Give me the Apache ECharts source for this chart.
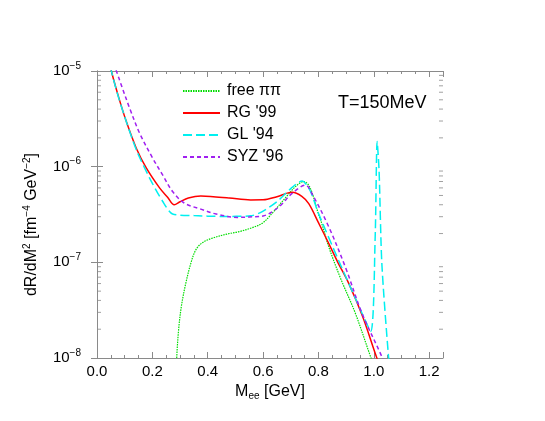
<!DOCTYPE html>
<html>
<head>
<meta charset="utf-8">
<script src="https://cdn.jsdelivr.net/npm/echarts@6/dist/echarts.min.js"></script>
<style>
  html, body { margin: 0; padding: 0; background: #fff; }
  #chart { width: 545px; height: 421px; }
</style>
</head>
<body>
<div id="chart"></div>
<script>
// M_ee [GeV] and dR/dM^2, one pair of arrays per curve
const massFree = [0.282, 0.288, 0.295, 0.305, 0.321, 0.34, 0.357, 0.38, 0.417, 0.478, 0.513, 0.56, 0.597, 0.633, 0.68, 0.72, 0.747, 0.77, 0.8, 0.813, 0.837, 0.88, 0.933, 0.99, 1.0];
const rateFree = [3e-9, 1e-8, 2e-8, 3.5e-8, 6.07e-8, 1.0e-7, 1.35e-7, 1.6e-7, 1.79e-7, 2.0e-7, 2.09e-7, 2.3e-7, 2.56e-7, 3.26e-7, 4.7e-7, 6.3e-7, 7.0e-7, 6.0e-7, 3.2e-7, 2.5e-7, 1.46e-7, 6.8e-8, 2.95e-8, 1.0e-8, 8.5e-9];

const massRG = [0.04, 0.052, 0.076, 0.106, 0.142, 0.178, 0.226, 0.255, 0.279, 0.3, 0.33, 0.375, 0.42, 0.478, 0.555, 0.6, 0.65, 0.705, 0.74, 0.765, 0.8, 0.837, 0.87, 0.909, 0.96, 1.011, 1.03];
const rateRG = [1.5e-5, 1.0e-5, 5.6e-6, 2.96e-6, 1.56e-6, 9.7e-7, 6.0e-7, 4.8e-7, 4.0e-7, 4.3e-7, 4.7e-7, 4.93e-7, 4.85e-7, 4.7e-7, 4.49e-7, 4.5e-7, 4.85e-7, 5.4e-7, 4.9e-7, 4.1e-7, 2.6e-7, 1.58e-7, 1.0e-7, 6.07e-8, 2.7e-8, 1.0e-8, 7.5e-9];

const massGL = [0.04, 0.052, 0.076, 0.106, 0.142, 0.19, 0.237, 0.273, 0.35, 0.45, 0.555, 0.597, 0.65, 0.7, 0.741, 0.77, 0.8, 0.872, 0.944, 0.989, 1.005, 1.012, 1.019, 1.029, 1.053, 1.06];
const rateGL = [1.5e-5, 1.0e-5, 5.5e-6, 2.95e-6, 1.5e-6, 7.6e-7, 4.35e-7, 3.2e-7, 3.08e-7, 3.02e-7, 3.06e-7, 3.39e-7, 4.3e-7, 5.9e-7, 7.1e-7, 5.6e-7, 3.26e-7, 1.06e-7, 3.6e-8, 1.9e-8, 1.85e-7, 1.83e-6, 9.2e-7, 9.8e-8, 1.05e-8, 8e-9];

const massSYZ = [0.06, 0.07, 0.088, 0.118, 0.154, 0.201, 0.237, 0.273, 0.315, 0.375, 0.43, 0.507, 0.55, 0.6, 0.657, 0.705, 0.753, 0.78, 0.837, 0.9, 0.957, 1.031, 1.04];
const rateSYZ = [1.2e-5, 1.0e-5, 7.1e-6, 4.08e-6, 2.24e-6, 1.23e-6, 8.2e-7, 5.5e-7, 4.17e-7, 3.6e-7, 3.2e-7, 2.95e-7, 2.98e-7, 3.05e-7, 3.8e-7, 5.26e-7, 6.4e-7, 5.0e-7, 2.36e-7, 8.5e-8, 2.95e-8, 1.0e-8, 8e-9];

// minor tick positions on the log axis
const yMinorTicks = [2e-8, 3e-8, 4e-8, 5e-8, 6e-8, 7e-8, 8e-8, 9e-8,
                     2e-7, 3e-7, 4e-7, 5e-7, 6e-7, 7e-7, 8e-7, 9e-7,
                     2e-6, 3e-6, 4e-6, 5e-6, 6e-6, 7e-6, 8e-6, 9e-6];

const xMin = 0, xMax = 1.25;
const font = 'Liberation Sans';
const frame = '#8a8a8a';

function pairs(xs, ys) {
    return xs.map((x, i) => [x, ys[i]]);
}

function curve(name, xs, ys, color, type, width, smooth) {
    return {
        name: name,
        type: 'line',
        symbol: 'none',
        smooth: smooth,
        data: pairs(xs, ys),
        lineStyle: { color: color, type: type, width: width },
        itemStyle: { color: color },
        clip: true,
        z: 3
    };
}

function tickMarks(x, offset) {
    return {
        type: 'scatter',
        silent: true,
        clip: false,
        symbol: 'rect',
        symbolSize: [4, 1],
        symbolOffset: [offset, 0],
        itemStyle: { color: frame },
        data: yMinorTicks.map(v => [x, v]),
        z: 2
    };
}

const sup = { fontSize: 10, fontFamily: font, color: '#000', verticalAlign: 'top', lineHeight: 20 };

var dom = document.getElementById('chart');
var myChart = echarts.init(dom);

var option = {
    animation: false,
    backgroundColor: '#fff',
    textStyle: { fontFamily: font },
    grid: { left: 97, right: 102, top: 71, bottom: 63, containLabel: false },
    title: {
        text: 'T=150MeV',
        left: 333,
        top: 89,
        textStyle: { fontSize: 18, fontWeight: 'normal', color: '#000', fontFamily: font }
    },
    legend: {
        data: ['free ππ', 'RG \'99', 'GL \'94', 'SYZ \'96'],
        orient: 'vertical',
        left: 177,
        top: 78,
        itemWidth: 37,
        itemHeight: 14,
        itemGap: 6,
        itemStyle: { opacity: 0 },
        textStyle: { fontSize: 16, color: '#000', fontFamily: font, padding: [0, 0, 0, 2] }
    },
    xAxis: [
        {
            type: 'value',
            min: xMin,
            max: xMax,
            interval: 0.2,
            position: 'bottom',
            name: 'M{sub|ee} [GeV]',
            nameLocation: 'middle',
            nameGap: 24,
            nameTextStyle: {
                fontSize: 16, color: '#000', fontFamily: font,
                rich: { sub: { fontSize: 10, fontFamily: font, color: '#000', verticalAlign: 'bottom', lineHeight: 18 } }
            },
            axisLine: { lineStyle: { color: frame } },
            axisTick: { inside: true, length: 6, lineStyle: { color: frame } },
            minorTick: { show: true, splitNumber: 4, length: 3, lineStyle: { color: frame } },
            splitLine: { show: false },
            axisLabel: {
                fontSize: 15, color: '#000', margin: 6, showMaxLabel: false,
                formatter: v => v.toFixed(1)
            }
        },
        {
            type: 'value',
            min: xMin,
            max: xMax,
            interval: 0.2,
            position: 'top',
            axisLine: { lineStyle: { color: frame } },
            axisTick: { inside: true, length: 6, lineStyle: { color: frame } },
            minorTick: { show: true, splitNumber: 4, length: 3, lineStyle: { color: frame } },
            splitLine: { show: false },
            axisLabel: { show: false }
        }
    ],
    yAxis: [
        {
            type: 'log',
            logBase: 10,
            min: 1e-8,
            max: 1e-5,
            position: 'left',
            name: 'dR/dM{s|2} [fm{s|−4} GeV{s|−2}]',
            nameLocation: 'middle',
            nameRotate: 90,
            nameGap: 49,
            nameTextStyle: {
                fontSize: 16, color: '#000', fontFamily: font, lineHeight: 20,
                padding: [0, 20, 0, 0],
                rich: { s: sup }
            },
            axisLine: { show: true, lineStyle: { color: frame } },
            axisTick: { inside: true, length: 6, lineStyle: { color: frame } },
            splitLine: { show: false },
            axisLabel: {
                margin: 16,
                formatter: v => '{b|10}{s|−' + Math.abs(Math.round(Math.log10(v))) + '}',
                rich: {
                    b: { fontSize: 15, fontFamily: font, color: '#000', lineHeight: 20 },
                    s: sup
                }
            }
        },
        {
            type: 'log',
            logBase: 10,
            min: 1e-8,
            max: 1e-5,
            position: 'right',
            axisLine: { show: true, lineStyle: { color: frame } },
            axisTick: { inside: true, length: 6, lineStyle: { color: frame } },
            splitLine: { show: false },
            axisLabel: { show: false }
        }
    ],
    series: [
        curve('free ππ', massFree, rateFree, '#00dd00', [1.5, 1], 1.2, 0.35),
        curve('RG \'99', massRG, rateRG, '#ff0000', 'solid', 1.5, 0.35),
        curve('GL \'94', massGL, rateGL, '#00f0f0', [9, 4], 1.5, 0.25),
        curve('SYZ \'96', massSYZ, rateSYZ, '#a020f0', [4, 3], 1.5, 0.35),
        tickMarks(xMin, 2),
        tickMarks(xMax, -2)
    ]
};

option && "object" == typeof option && myChart.setOption(option, !0);
</script>
</body>
</html>
